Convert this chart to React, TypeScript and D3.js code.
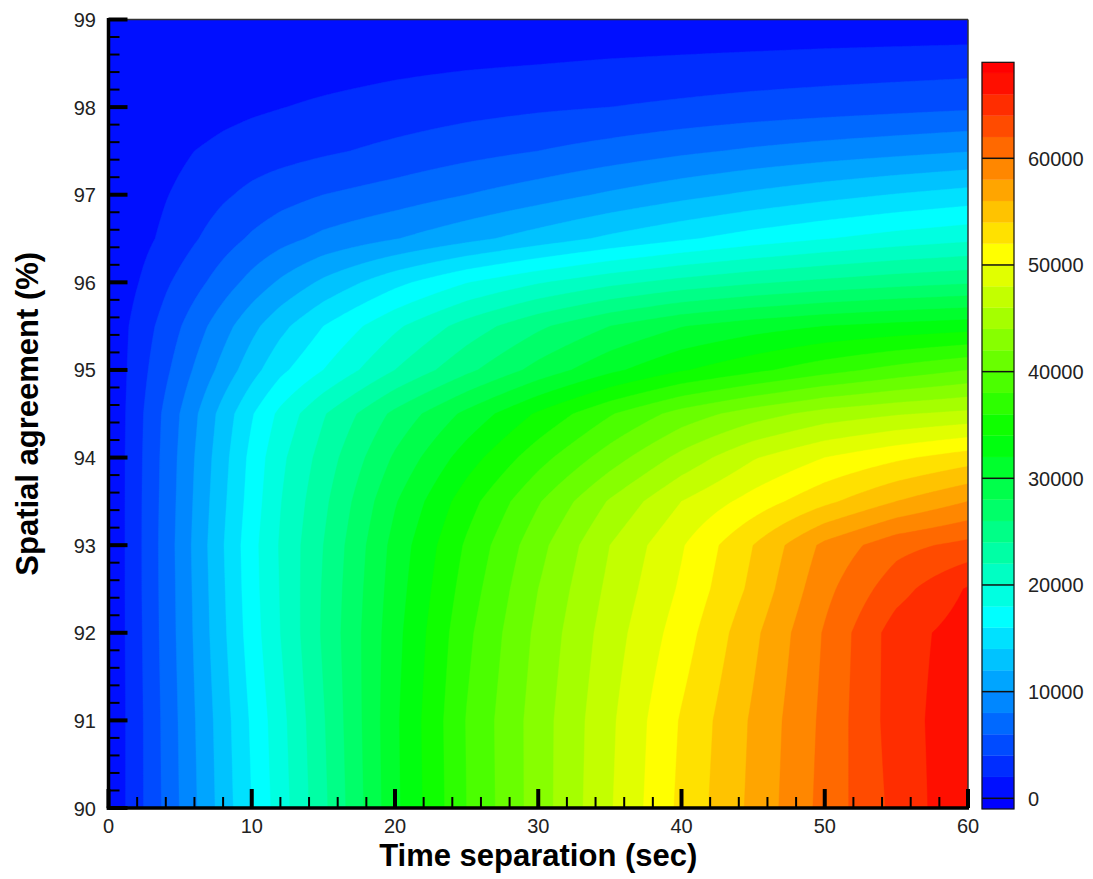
import React, { useMemo } from "react";
import * as d3 from "d3";

// Grid of the measurement table
const timeSeparation = [0, 1, 2, 4, 6, 8, 10, 12, 15, 20, 25, 30, 35, 40, 45, 50, 55, 60];
const spatialAgreement = [90, 91, 92, 92.5, 93, 93.5, 94, 94.5, 95, 95.5, 96, 96.5, 97, 97.5, 98, 98.5, 99];

// Number of matches for each time separation, one row per spatial agreement level
const matchesAt90 = [0, 1700, 3300, 6500, 9700, 12900, 16000, 19000, 23500, 31500, 38000, 43000, 47800, 52500, 56500, 60700, 64600, 67800];
const matchesAt91 = [0, 1700, 3300, 6600, 9900, 13100, 16300, 19300, 23800, 31600, 38100, 43000, 47600, 52200, 56300, 60500, 65000, 67500];
const matchesAt92 = [0, 1750, 3400, 6800, 10200, 13600, 17000, 20000, 24300, 31300, 37500, 42500, 47000, 51000, 55500, 60200, 65000, 67000];
const matchesAt92_5 = [0, 1750, 3450, 6850, 10300, 13750, 17200, 20100, 24200, 31000, 36900, 42000, 46500, 50300, 54500, 59400, 63200, 66200];
const matchesAt93 = [0, 1750, 3450, 6900, 10400, 13900, 17300, 20200, 24000, 30700, 36300, 41300, 46000, 49800, 54000, 58500, 61300, 62600];
const matchesAt93_5 = [0, 1750, 3450, 6800, 10200, 13600, 16900, 19900, 23500, 29800, 35100, 39800, 44200, 48000, 50800, 53500, 56000, 58000];
const matchesAt94 = [0, 1750, 3400, 6700, 10000, 13300, 16600, 19500, 22800, 28300, 33000, 37200, 41000, 44600, 47800, 50000, 51600, 53000];
const matchesAt94_5 = [0, 1700, 3300, 6500, 9600, 12800, 15800, 18500, 21800, 26500, 30500, 34300, 37800, 40800, 43000, 44800, 45800, 46500];
const matchesAt95 = [0, 1600, 3000, 5600, 8200, 10700, 13200, 15500, 18000, 22000, 25500, 28700, 31500, 33800, 35500, 37200, 38700, 40000];
const matchesAt95_5 = [0, 1500, 2700, 4800, 7000, 9200, 11400, 13400, 16000, 19600, 22800, 25600, 28000, 29900, 31100, 32000, 32600, 33100];
const matchesAt96 = [0, 1000, 1900, 3700, 5300, 7000, 8700, 10300, 12400, 15400, 17900, 19800, 21400, 22700, 23700, 24500, 25200, 25750];
const matchesAt96_5 = [0, 650, 1250, 2450, 3800, 5100, 6300, 7300, 8500, 9900, 11400, 12900, 14400, 15700, 16900, 17900, 18800, 19500];
const matchesAt97 = [0, 450, 900, 1900, 2800, 3700, 4500, 5200, 6000, 6900, 8000, 9100, 10300, 11400, 12400, 13300, 14100, 14800];
const matchesAt97_5 = [0, 250, 550, 1300, 2000, 2500, 2900, 3200, 3700, 4500, 5300, 6000, 6800, 7600, 8300, 8900, 9400, 9900];
const matchesAt98 = [0, 100, 250, 650, 1000, 1400, 1700, 1950, 2300, 2800, 3300, 3700, 4000, 4400, 4800, 5100, 5400, 5700];
const matchesAt98_5 = [0, 50, 100, 250, 450, 650, 800, 950, 1150, 1500, 1750, 1950, 2200, 2400, 2600, 2800, 2950, 3100];
const matchesAt99 = [0, 0, 0, 20, 40, 60, 80, 100, 130, 170, 210, 250, 290, 330, 370, 420, 470, 520];

const matchRows = [
  matchesAt90, matchesAt91, matchesAt92, matchesAt92_5, matchesAt93, matchesAt93_5,
  matchesAt94, matchesAt94_5, matchesAt95, matchesAt95_5, matchesAt96, matchesAt96_5,
  matchesAt97, matchesAt97_5, matchesAt98, matchesAt98_5, matchesAt99,
];

// Contour levels and axis ticks
const contourLevels = d3.range(0, 68001, 2000);
const legendTicks = [0, 10000, 20000, 30000, 40000, 50000, 60000];
const xTicks = [0, 10, 20, 30, 40, 50, 60];
const yTicks = [90, 91, 92, 93, 94, 95, 96, 97, 98, 99];

const W = 1093;
const H = 879;
const plot = { left: 108.5, right: 968, top: 19.5, bottom: 808 };
const legend = { left: 982, right: 1014, zeroY: 798.3, y60k: 158.3 };
const FONT = "'Liberation Sans', Arial, Helvetica, sans-serif";

const colormap = d3
  .scaleLinear<string>()
  .domain([0, 0.25, 0.5, 0.75, 1])
  .range(["#0000ff", "#00ffff", "#00ff00", "#ffff00", "#ff0000"])
  .interpolate(d3.interpolateRgb)
  .clamp(true);

const nBands = contourLevels.length - 1;
const bandColor = (i: number) => colormap((i + 0.5) / nBands);

function cellIndex(arr: number[], v: number) {
  const k = d3.bisectRight(arr, v) - 1;
  return Math.max(0, Math.min(arr.length - 2, k));
}

function sampleField(t: number, s: number) {
  const i = cellIndex(timeSeparation, t);
  const j = cellIndex(spatialAgreement, s);
  const fx = (t - timeSeparation[i]) / (timeSeparation[i + 1] - timeSeparation[i]);
  const fy = (s - spatialAgreement[j]) / (spatialAgreement[j + 1] - spatialAgreement[j]);
  const r0 = matchRows[j];
  const r1 = matchRows[j + 1];
  return (
    (1 - fx) * (1 - fy) * r0[i] +
    fx * (1 - fy) * r0[i + 1] +
    (1 - fx) * fy * r1[i] +
    fx * fy * r1[i + 1]
  );
}

export default function App() {
  const x = d3.scaleLinear().domain([0, 60]).range([plot.left, plot.right]);
  const y = d3.scaleLinear().domain([90, 99]).range([plot.bottom, plot.top]);
  const cb = d3.scaleLinear().domain([0, 60000]).range([legend.zeroY, legend.y60k]);

  const bands = useMemo(() => {
    const gx = 0.125;
    const gy = 0.025;
    const nx = Math.round(60 / gx) + 1;
    const ny = Math.round(9 / gy) + 1;
    const values = new Float64Array(nx * ny);
    for (let j = 0; j < ny; j++) {
      const s = 90 + j * gy;
      for (let i = 0; i < nx; i++) {
        values[j * nx + i] = sampleField(i * gx, s);
      }
    }
    const polys = d3.contours().size([nx, ny]).thresholds(contourLevels)(Array.from(values));
    const proj = d3.geoTransform({
      point(px: number, py: number) {
        (this as any).stream.point(x((px - 0.5) * gx), y(90 + (py - 0.5) * gy));
      },
    });
    const path = d3.geoPath(proj);
    return polys.map((p, i) => ({ d: path(p as any) || "", color: bandColor(i) }));
  }, []);

  const xMinor = d3.range(0, 60.001, 2).filter((v) => v % 10 !== 0);
  const yMinor = d3.range(90, 99.001, 0.2).filter((v) => Math.abs(v - Math.round(v)) > 1e-6);

  // colour bar segments: half band below the first level, one per interval, half band above the last
  const legendSegments = [
    { lo: -1000, hi: 0, color: colormap(0) },
    ...contourLevels.slice(0, -1).map((lv, i) => ({ lo: lv, hi: contourLevels[i + 1], color: bandColor(i) })),
    { lo: 68000, hi: 69000, color: colormap(1) },
  ];

  return (
    <svg
      width={W}
      height={H}
      style={{ position: "absolute", left: 0, top: 0, background: "#fff" }}
      fontFamily={FONT}
    >
      <defs>
        <clipPath id="plot-clip">
          <rect x={plot.left} y={plot.top} width={plot.right - plot.left} height={plot.bottom - plot.top} />
        </clipPath>
      </defs>

      <g clipPath="url(#plot-clip)">
        <rect x={plot.left} y={plot.top} width={plot.right - plot.left} height={plot.bottom - plot.top} fill={bandColor(0)} />
        {bands.map((b, i) => (
          <path key={i} d={b.d} fill={b.color} stroke={b.color} strokeWidth={0.4} />
        ))}
      </g>

      {/* frame */}
      <line x1={plot.left} x2={plot.right} y1={plot.top} y2={plot.top} stroke="#333" strokeWidth={1.5} />
      <line x1={plot.right} x2={plot.right} y1={plot.top} y2={plot.bottom} stroke="#333" strokeWidth={1.5} />
      <line x1={plot.left} x2={plot.left} y1={plot.top - 1.5} y2={plot.bottom + 1.75} stroke="#000" strokeWidth={3.5} />
      <line x1={plot.left - 1.75} x2={plot.right + 1} y1={plot.bottom} y2={plot.bottom} stroke="#000" strokeWidth={3.5} />

      {/* x ticks */}
      {xTicks.map((t) => (
        <line key={"xM" + t} x1={x(t)} x2={x(t)} y1={plot.bottom} y2={plot.bottom - 19} stroke="#000" strokeWidth={4} />
      ))}
      {xMinor.map((t) => (
        <line key={"xm" + t} x1={x(t)} x2={x(t)} y1={plot.bottom} y2={plot.bottom - 11} stroke="#000" strokeWidth={2} />
      ))}
      {xTicks.map((t) => (
        <text key={"xl" + t} x={x(t)} y={833} textAnchor="middle" fontSize={20} fill="#222">
          {t}
        </text>
      ))}

      {/* y ticks */}
      {yTicks.map((t) => (
        <line key={"yM" + t} x1={plot.left} x2={plot.left + 19} y1={y(t)} y2={y(t)} stroke="#000" strokeWidth={4} />
      ))}
      {yMinor.map((t) => (
        <line key={"ym" + t.toFixed(1)} x1={plot.left} x2={plot.left + 11} y1={y(t)} y2={y(t)} stroke="#000" strokeWidth={2} />
      ))}
      {yTicks.map((t) => (
        <text key={"yl" + t} x={96} y={y(t) + 7.5} textAnchor="end" fontSize={20} fill="#222">
          {t}
        </text>
      ))}

      {/* axis titles */}
      <text x={(plot.left + plot.right) / 2} y={866} textAnchor="middle" fontSize={31} fontWeight="bold" fill="#000">
        Time separation (sec)
      </text>
      <text
        transform={`translate(38, ${(plot.top + plot.bottom) / 2}) rotate(-90)`}
        textAnchor="middle"
        fontSize={31}
        fontWeight="bold"
        fill="#000"
      >
        Spatial agreement (%)
      </text>

      {/* colour legend */}
      {legendSegments.map((seg, i) => (
        <rect
          key={"cb" + i}
          x={legend.left}
          y={cb(seg.hi)}
          width={legend.right - legend.left}
          height={cb(seg.lo) - cb(seg.hi)}
          fill={seg.color}
          stroke={seg.color}
          strokeWidth={0.3}
        />
      ))}
      {legendTicks.map((v) => (
        <line key={"cl" + v} x1={legend.left} x2={legend.right} y1={cb(v)} y2={cb(v)} stroke="#111" strokeWidth={1.5} />
      ))}
      <rect
        x={legend.left}
        y={cb(69000)}
        width={legend.right - legend.left}
        height={cb(-1000) - cb(69000)}
        fill="none"
        stroke="#111"
        strokeWidth={1.2}
      />
      {legendTicks.map((v) => (
        <text key={"ct" + v} x={1028} y={cb(v) + 7.5} fontSize={20} fill="#222">
          {v}
        </text>
      ))}
    </svg>
  );
}
